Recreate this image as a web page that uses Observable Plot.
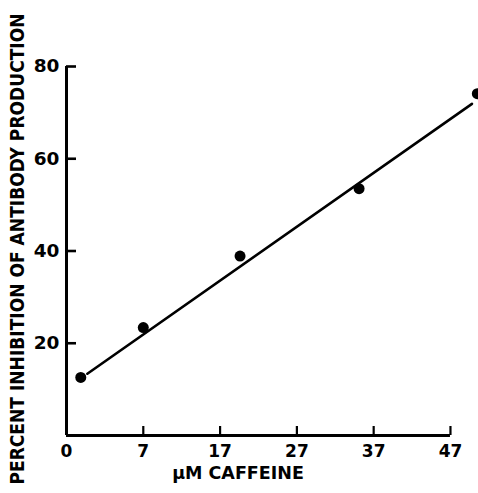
<!DOCTYPE html>
<html>
<head>
<meta charset="utf-8">
<script src="https://cdn.jsdelivr.net/npm/d3@7"></script>
<script src="https://cdn.jsdelivr.net/npm/@observablehq/plot@0.6"></script>
<style>
  html, body { margin: 0; padding: 0; background: #fff; }
</style>
</head>
<body>
<div id="chart"></div>
<script>
// Data
const caffeine   = [1.3, 7, 19.6, 35.1, 50.5];     // µM caffeine
const inhibition = [12.6, 23.4, 38.9, 53.5, 74.1]; // % inhibition
const fitX = [1.9, 49.8];   // regression line ends (µM)
const fitY = [13.4, 71.9];  // regression line ends (%)
const xTicks = [0, 7, 17, 27, 37, 47];
const yTicks = [20, 40, 60, 80];
const xTitle = "µM CAFFEINE";
const yTitle = "PERCENT INHIBITION OF ANTIBODY PRODUCTION";

// The printed axis is broken between 0 and 7: 0–7 takes the same length as 10 units.
const axisPos = d3.scaleLinear([0, 7, 50], [0, 10, 53]);

const points = caffeine.map((x, i) => ({x: axisPos(x), y: inhibition[i]}));
const fit = fitX.map((x, i) => ({x: axisPos(x), y: fitY[i]}));
const xTickPos = xTicks.map(axisPos);

const bold = "DejaVu Sans, sans-serif";

const chart = Plot.plot({
  width: 478,
  height: 493,
  marginLeft: 66,
  marginRight: 5,
  marginTop: 66,
  marginBottom: 58,
  style: {fontFamily: bold, fontWeight: "bold", color: "#000", background: "#fff", overflow: "visible"},
  x: {domain: [0, 53], axis: null},
  y: {domain: [0, 80], axis: null},
  marks: [
    // axis lines
    Plot.ruleY([0], {x1: 0, x2: axisPos(47), strokeWidth: 3, stroke: "#000"}),
    Plot.ruleX([0], {y1: 0, y2: 80, strokeWidth: 3, stroke: "#000"}),
    // inward ticks
    Plot.axisX(xTickPos, {anchor: "bottom", tickSize: -9, strokeWidth: 2.2, tickFormat: () => "", label: null}),
    Plot.axisY(yTicks, {anchor: "left", tickSize: -10, strokeWidth: 2.6, tickFormat: () => "", label: null}),
    // tick labels
    Plot.axisX(xTickPos, {anchor: "bottom", tickSize: 0, tickPadding: 9, fontSize: 17, label: null,
      tickFormat: (d, i) => String(xTicks[i])}),
    Plot.axisY(yTicks, {anchor: "left", tickSize: 0, tickPadding: 7, fontSize: 18.5, label: null}),
    // titles
    Plot.text([xTitle], {frameAnchor: "bottom", dx: -32, dy: 43, fontSize: 17.5, text: d => d}),
    Plot.text([yTitle], {frameAnchor: "left", dx: -49, dy: -2, rotate: -90, textAnchor: "middle",
      fontSize: 19, fontFamily: "DejaVu Sans Condensed, DejaVu Sans, sans-serif", text: d => d}),
    // regression line and data
    Plot.line(fit, {x: "x", y: "y", stroke: "#000", strokeWidth: 2.6}),
    Plot.dot(points, {x: "x", y: "y", r: 5.5, fill: "#000"})
  ]
});
document.getElementById("chart").appendChild(chart);
</script>
</body>
</html>
